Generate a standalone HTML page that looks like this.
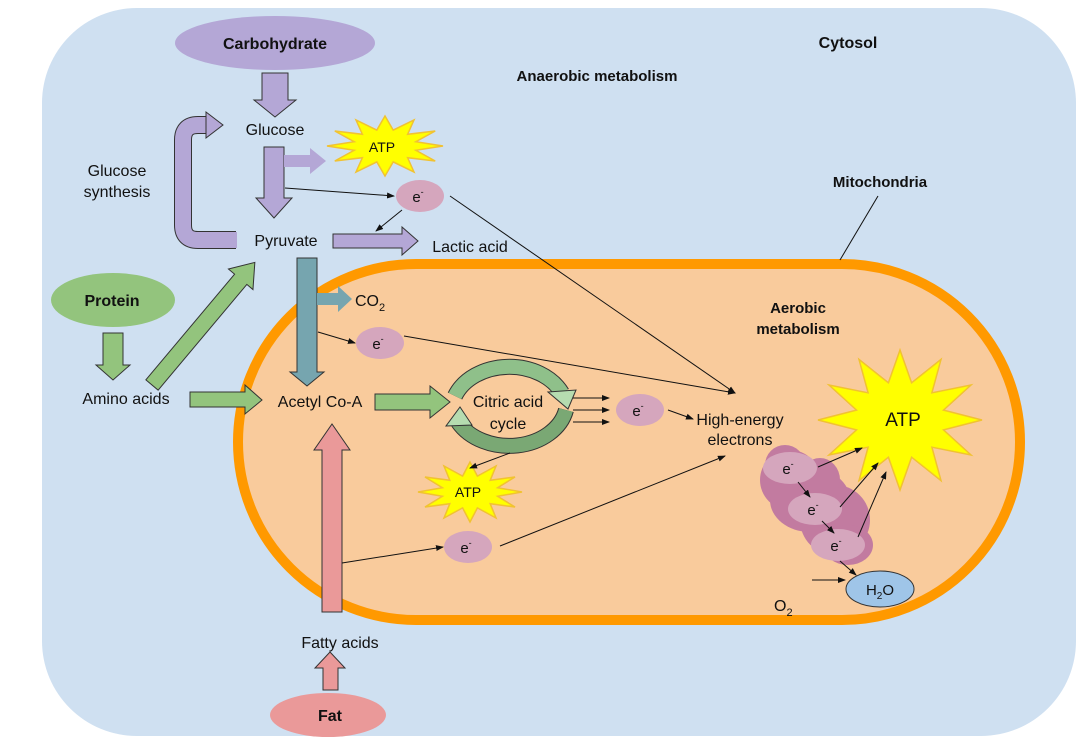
<!DOCTYPE html>
<html><head><meta charset="utf-8"><style>
html,body{margin:0;padding:0;background:#fff}
svg{display:block}
text{font-family:"Liberation Sans",Arial,sans-serif;fill:#111}
.b{font-weight:bold}
</style></head><body>
<svg width="1078" height="738" viewBox="0 0 1078 738" xmlns="http://www.w3.org/2000/svg">
<defs>
<marker id="ah" markerWidth="8" markerHeight="8" refX="7" refY="4" orient="auto" markerUnits="userSpaceOnUse"><path d="M0,1 L8,4 L0,7 z" fill="#111"/></marker>
</defs>
<rect x="42" y="8" width="1034" height="728" rx="95" fill="#cfe0f1"/>
<!-- mitochondria -->
<rect x="238" y="264" width="782" height="356" rx="178" fill="#f9cb9c" stroke="#ff9900" stroke-width="10"/>
<line x1="840" y1="260" x2="878" y2="196" stroke="#111" stroke-width="1"/>

<text x="848" y="48" class="b" font-size="16" text-anchor="middle">Cytosol</text>
<text x="597" y="81" class="b" font-size="15" text-anchor="middle">Anaerobic metabolism</text>
<text x="880" y="187" class="b" font-size="15" text-anchor="middle">Mitochondria</text>
<text x="798" y="313" class="b" font-size="15" text-anchor="middle">Aerobic</text>
<text x="798" y="334" class="b" font-size="15" text-anchor="middle">metabolism</text>

<!-- source ellipses -->
<ellipse cx="275" cy="43" rx="100" ry="27" fill="#b4a7d6"/>
<text x="275" y="49" class="b" font-size="16" text-anchor="middle" fill="#222">Carbohydrate</text>
<ellipse cx="113" cy="300" rx="62" ry="27" fill="#93c47d"/>
<text x="112" y="306" class="b" font-size="16" text-anchor="middle">Protein</text>
<ellipse cx="328" cy="715" rx="58" ry="22" fill="#ea9999"/>
<text x="330" y="721" class="b" font-size="16" text-anchor="middle">Fat</text>

<g stroke="#333" stroke-width="1">
<polygon fill="#b4a7d6" points="262,73 288,73 288,100 296,100 275,117 254,100 262,100"/>
<polygon fill="#b4a7d6" points="264,147 284,147 284,198 292,198 274,218 256,198 264,198"/>
<polygon fill="#b4a7d6" stroke="none" points="284,155 310,155 310,148 326,161 310,174 310,167 284,167"/>
<polygon fill="#b4a7d6" points="333,234 402,234 402,227 418,241 402,255 402,248 333,248"/>
<polygon fill="#76a5af" points="297,258 317,258 317,372 324,372 307,386 290,372 297,372"/>
<polygon fill="#76a5af" stroke="none" points="317,293 338,293 338,286 352,299 338,312 338,305 317,305"/>
<polygon fill="#93c47d" points="103,333 123,333 123,365 130,365 113,380 96,365 103,365"/>
<polygon fill="#93c47d" points="190,392 245,392 245,385 262,400 245,414 245,407 190,407"/>
<polygon fill="#93c47d" points="375,394 430,394 430,386 450,402 430,418 430,410 375,410"/>
<polygon fill="#93c47d" transform="translate(152,385) rotate(-50)" points="0,-8 138,-8 138,-16 160,0 138,16 138,8 0,8"/>
<polygon fill="#ea9999" points="322,612 342,612 342,450 350,450 332,424 314,450 322,450"/>
<polygon fill="#ea9999" points="323,690 338,690 338,668 345,668 330,652 315,668 323,668"/>
</g>
<path d="M236,240 H198 Q183,240 183,225 V140 Q183,125 198,125 H206" fill="none" stroke="#333" stroke-width="18"/>
<path d="M237,240 H198 Q183,240 183,225 V140 Q183,125 198,125 H207" fill="none" stroke="#b4a7d6" stroke-width="16"/>
<polygon points="206,112 223,125 206,138" fill="#b4a7d6" stroke="#333" stroke-width="1"/>
<text x="117" y="176" font-size="16" text-anchor="middle">Glucose</text>
<text x="117" y="197" font-size="16" text-anchor="middle">synthesis</text>

<text x="275" y="135" font-size="16" text-anchor="middle">Glucose</text>
<text x="286" y="246" font-size="16" text-anchor="middle">Pyruvate</text>
<text x="470" y="252" font-size="16" text-anchor="middle">Lactic acid</text>
<text x="355" y="306" font-size="16">CO<tspan font-size="11" dy="5">2</tspan></text>
<text x="126" y="404" font-size="16" text-anchor="middle">Amino acids</text>
<text x="320" y="407" font-size="16" text-anchor="middle">Acetyl Co-A</text>
<text x="340" y="648" font-size="16" text-anchor="middle">Fatty acids</text>
<text x="740" y="425" font-size="16" text-anchor="middle">High-energy</text>
<text x="740" y="445" font-size="16" text-anchor="middle">electrons</text>

<!-- citric acid cycle -->
<path d="M455,396 A58,45 0 0 1 562,393" fill="none" stroke="#333" stroke-width="16"/>
<path d="M455,396 A58,45 0 0 1 562,393" fill="none" stroke="#8fc08a" stroke-width="14"/>
<polygon points="548,392 576,390 568,409" fill="#b6dcb0" stroke="#333" stroke-width="1"/>
<path d="M566,410 A58,45 0 0 1 458,422" fill="none" stroke="#333" stroke-width="16"/>
<path d="M566,410 A58,45 0 0 1 458,422" fill="none" stroke="#7aa874" stroke-width="14"/>
<polygon points="446,426 472,425 460,407" fill="#b6dcb0" stroke="#333" stroke-width="1"/>
<text x="508" y="407" font-size="16" text-anchor="middle">Citric acid</text>
<text x="508" y="429" font-size="16" text-anchor="middle">cycle</text>

<!-- stars -->
<g fill="#ffff00" stroke="#f1c232" stroke-width="1.5">
<polygon points="443,146 415.8,150.3 435.2,161 407.6,157.7 414,172 393.2,161.9 385,176 376.8,161.9 356,172 362.4,157.7 334.8,161 354.2,150.3 327,146 354.2,141.7 334.8,131 362.4,134.3 356,120 376.8,130.1 385,116 393.2,130.1 414,120 407.6,134.3 435.2,131 415.8,141.7"/>
<polygon points="522,492 497.6,496.3 515,507 490.2,503.7 496,518 477.4,507.9 470,522 462.6,507.9 444,518 449.8,503.7 425,507 442.4,496.3 418,492 442.4,487.7 425,477 449.8,480.3 444,466 462.6,476.1 470,462 477.4,476.1 496,466 490.2,480.3 515,477 497.6,487.7"/>
<polygon points="982,420 943.5,429.9 971,455 931.9,447.2 941,480.6 911.6,457.2 900,490 888.4,457.2 859,480.6 868.1,447.2 829,455 856.5,429.9 818,420 856.5,410.1 829,385 868.1,392.8 859,359.4 888.4,382.8 900,350 911.6,382.8 941,359.4 931.9,392.8 971,385 943.5,410.1"/>
</g>
<text x="382" y="152" font-size="14" text-anchor="middle">ATP</text>
<text x="468" y="497" font-size="14" text-anchor="middle">ATP</text>
<text x="903" y="426" font-size="19" text-anchor="middle">ATP</text>

<!-- ETC blob -->
<g fill="#c27ba0">
<ellipse cx="790" cy="480" rx="30" ry="30"/>
<ellipse cx="810" cy="500" rx="40" ry="32"/>
<ellipse cx="835" cy="520" rx="35" ry="35"/>
<ellipse cx="848" cy="545" rx="25" ry="20"/>
<ellipse cx="785" cy="465" rx="20" ry="20"/>
<ellipse cx="820" cy="480" rx="20" ry="22"/>
</g>
<g fill="#d5a6bd">
<ellipse cx="790" cy="468" rx="27" ry="16"/>
<ellipse cx="815" cy="509" rx="27" ry="16"/>
<ellipse cx="838" cy="545" rx="27" ry="16"/>
<ellipse cx="420" cy="196" rx="24" ry="16"/>
<ellipse cx="380" cy="343" rx="24" ry="16"/>
<ellipse cx="640" cy="410" rx="24" ry="16"/>
<ellipse cx="468" cy="547" rx="24" ry="16"/>
</g>
<g font-size="15" text-anchor="middle">
<text x="418" y="202">e<tspan font-size="9" dy="-7">-</tspan></text>
<text x="378" y="349">e<tspan font-size="9" dy="-7">-</tspan></text>
<text x="638" y="416">e<tspan font-size="9" dy="-7">-</tspan></text>
<text x="466" y="553">e<tspan font-size="9" dy="-7">-</tspan></text>
<text x="788" y="474">e<tspan font-size="9" dy="-7">-</tspan></text>
<text x="813" y="515">e<tspan font-size="9" dy="-7">-</tspan></text>
<text x="836" y="551">e<tspan font-size="9" dy="-7">-</tspan></text>
</g>
<ellipse cx="880" cy="589" rx="34" ry="18" fill="#9fc5e8" stroke="#333" stroke-width="1"/>
<text x="880" y="595" font-size="15" text-anchor="middle">H<tspan font-size="10" dy="4">2</tspan><tspan dy="-4">O</tspan></text>
<text x="774" y="611" font-size="16">O<tspan font-size="11" dy="5">2</tspan></text>

<g stroke="#111" stroke-width="1" marker-end="url(#ah)" fill="none">
<line x1="285" y1="188" x2="394" y2="196"/>
<line x1="402" y1="210" x2="376" y2="231"/>
<line x1="450" y1="196" x2="735" y2="393"/>
<line x1="318" y1="332" x2="355" y2="343"/>
<line x1="404" y1="336" x2="735" y2="393"/>
<line x1="573" y1="398" x2="609" y2="398"/>
<line x1="573" y1="410" x2="609" y2="410"/>
<line x1="573" y1="422" x2="609" y2="422"/>
<line x1="668" y1="410" x2="693" y2="419"/>
<line x1="342" y1="563" x2="443" y2="547"/>
<line x1="500" y1="546" x2="725" y2="456"/>
<line x1="510" y1="453" x2="470" y2="468"/>
<line x1="818" y1="467" x2="862" y2="448"/>
<line x1="840" y1="507" x2="878" y2="463"/>
<line x1="858" y1="537" x2="886" y2="472"/>
<line x1="798" y1="482" x2="810" y2="497"/>
<line x1="822" y1="521" x2="834" y2="533"/>
<line x1="840" y1="561" x2="856" y2="575"/>
<line x1="812" y1="580" x2="845" y2="580"/>
</g>
</svg>
</body></html>
